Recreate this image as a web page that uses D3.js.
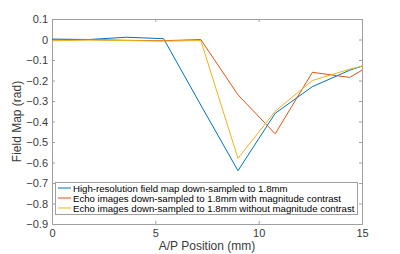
<!DOCTYPE html>
<html>
<head>
<meta charset="utf-8">
<script src="https://cdn.jsdelivr.net/npm/d3@7"></script>
<style>
  body { margin: 0; background: #fff; }
  svg { font-family: Helvetica, Arial, "Liberation Sans", sans-serif; }
</style>
</head>
<body>
<div id="chart"><svg></svg></div>
<script>
let width = 400;
let height = 254;

// A/P position (mm), 1.8mm steps
let positions = [0, 1.8, 3.6, 5.4, 7.2, 9.0, 10.8, 12.6, 14.4, 15];
let highRes = [0.002, 0.0, 0.011, 0.004, -0.32, -0.64, -0.36, -0.23, -0.15, -0.13];
let withMag = [-0.002, 0.0, -0.004, -0.006, 0.0, -0.27, -0.46, -0.16, -0.185, -0.15];
let withoutMag = [-0.006, -0.003, -0.005, -0.008, -0.005, -0.58, -0.35, -0.2, -0.145, -0.13];
let seriesNames = [
  'High-resolution field map down-sampled to 1.8mm',
  'Echo images down-sampled to 1.8mm with magnitude contrast',
  'Echo images down-sampled to 1.8mm without magnitude contrast'
];
let colors = ['#0072BD', '#D95319', '#EDB120'];
let xTicks = [0, 5, 10, 15];
let yTicks = [0.1, 0, -0.1, -0.2, -0.3, -0.4, -0.5, -0.6, -0.7, -0.8, -0.9];

function draw_chart() {
  let svg = d3.select('#chart').select('svg')
    .attr('width', width)
    .attr('height', height);

  let margin = {left: 52, right: 38, top: 19, bottom: 30};
  let x = d3.scaleLinear().domain([0, 15]).range([margin.left, width - margin.right]);
  let y = d3.scaleLinear().domain([-0.9, 0.1]).range([height - margin.bottom, margin.top]);

  let axisColor = '#3a3a3a';
  let boxColor = '#a0a0a0';

  // 坐标轴
  let xAxis = svg.append('g')
    .attr('transform', `translate(0,${y(-0.9)})`)
    .call(d3.axisBottom(x).tickValues(xTicks).tickSize(-3).tickPadding(5).tickFormat(d3.format('d')));
  let xTop = svg.append('g')
    .attr('transform', `translate(0,${y(0.1)})`)
    .call(d3.axisTop(x).tickValues(xTicks).tickSize(-3).tickFormat(''));
  let yAxis = svg.append('g')
    .attr('transform', `translate(${x(0)},0)`)
    .call(d3.axisLeft(y).tickValues(yTicks).tickSize(-3).tickPadding(4).tickFormat(d => d === 0 ? '0' : d3.format('.1f')(d)));
  let yRight = svg.append('g')
    .attr('transform', `translate(${x(15)},0)`)
    .call(d3.axisRight(y).tickValues(yTicks).tickSize(-3).tickFormat(''));

  [xAxis, xTop, yAxis, yRight].forEach(g => {
    g.select('.domain').attr('stroke', boxColor).attr('stroke-width', 1);
    g.selectAll('.tick line').attr('stroke', boxColor);
    g.selectAll('.tick text').attr('fill', axisColor).style('font-size', '11px');
  });

  // 数据线
  let line = d3.line().x((d, i) => x(positions[i])).y(d => y(d));
  [highRes, withMag, withoutMag].forEach((s, i) => {
    svg.append('path')
      .datum(s)
      .attr('fill', 'none')
      .attr('stroke', colors[i])
      .attr('stroke-width', 1)
      .attr('d', line);
  });

  // 轴标题
  svg.append('text')
    .attr('x', (x(0) + x(15)) / 2)
    .attr('y', 250)
    .attr('text-anchor', 'middle')
    .attr('fill', axisColor)
    .style('font-size', '12px')
    .text('A/P Position (mm)');
  svg.append('text')
    .attr('transform', `translate(21,${(y(0.1) + y(-0.9)) / 2}) rotate(-90)`)
    .attr('text-anchor', 'middle')
    .attr('fill', axisColor)
    .style('font-size', '12px')
    .text('Field Map (rad)');

  // 图例
  let legend = svg.append('g').attr('class', 'legend');
  legend.append('rect')
    .attr('x', 55.5).attr('y', 182.5)
    .attr('width', 302).attr('height', 32)
    .attr('fill', '#fff')
    .attr('stroke', boxColor);
  seriesNames.forEach((name, i) => {
    let ly = 188 + i * 10;
    legend.append('line')
      .attr('x1', 58).attr('x2', 71)
      .attr('y1', ly).attr('y2', ly)
      .attr('stroke', colors[i]);
    legend.append('text')
      .attr('x', 73).attr('y', ly + 3.5)
      .attr('fill', '#000')
      .style('font-size', '9.65px')
      .text(name);
  });
}

draw_chart();
</script>
</body>
</html>
